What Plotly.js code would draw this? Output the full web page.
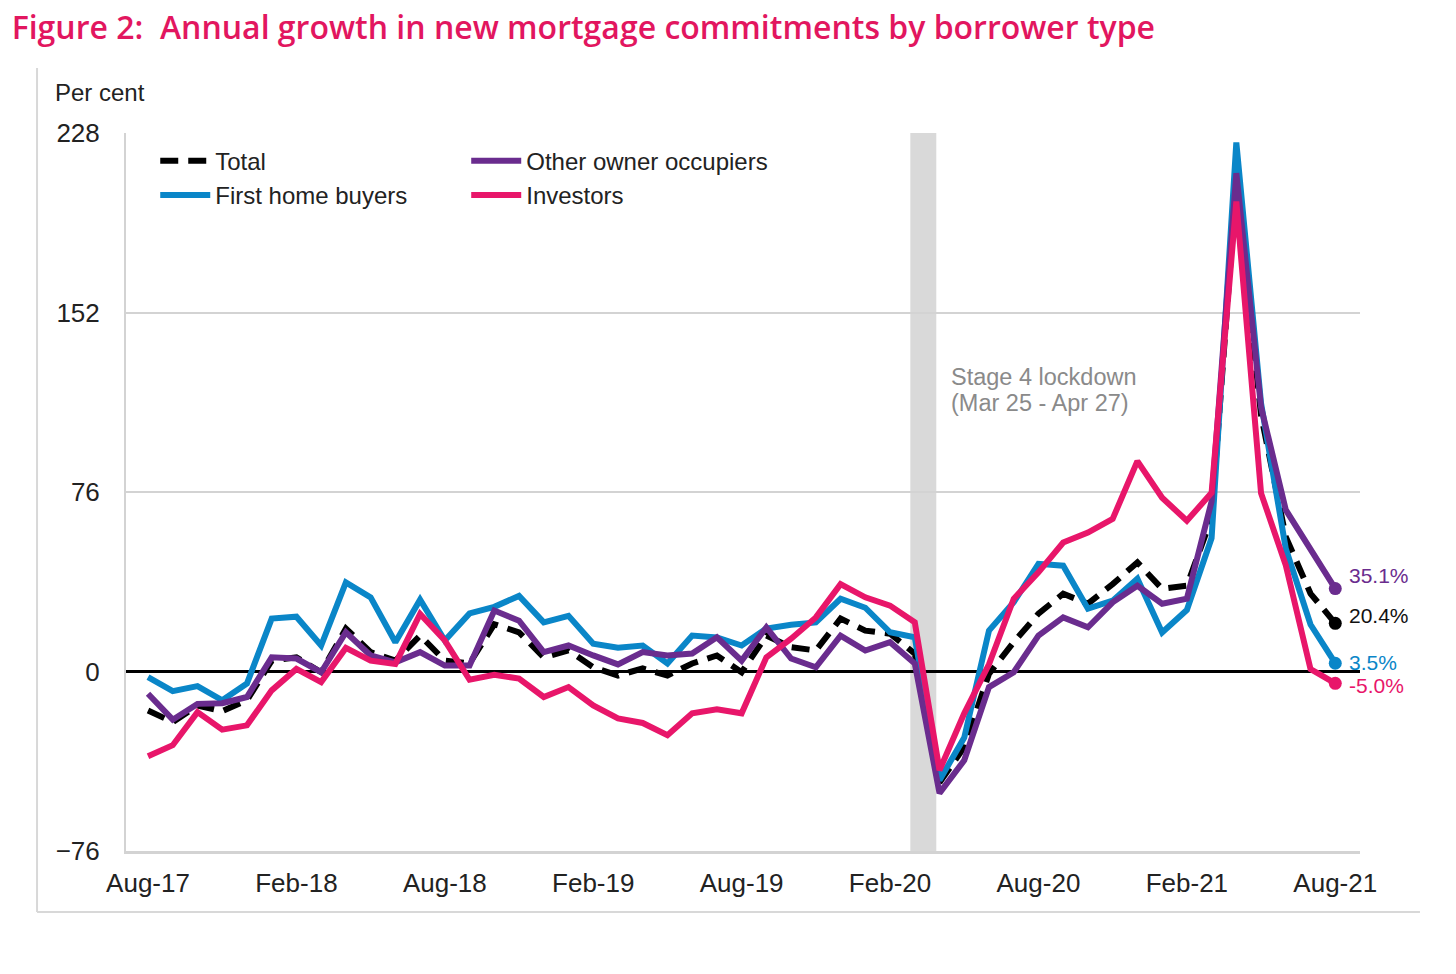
<!DOCTYPE html>
<html>
<head>
<meta charset="utf-8">
<script src="https://cdn.plot.ly/plotly-3.0.1.min.js"></script>
<style>html,body{margin:0;padding:0;background:#fff;}#chart{width:1456px;height:974px;}</style>
</head>
<body>
<div id="chart"></div>
<script>
const months = ["Aug-17","Sep-17","Oct-17","Nov-17","Dec-17","Jan-18","Feb-18","Mar-18","Apr-18","May-18","Jun-18","Jul-18",
"Aug-18","Sep-18","Oct-18","Nov-18","Dec-18","Jan-19","Feb-19","Mar-19","Apr-19","May-19","Jun-19","Jul-19",
"Aug-19","Sep-19","Oct-19","Nov-19","Dec-19","Jan-20","Feb-20","Mar-20","Apr-20","May-20","Jun-20","Jul-20",
"Aug-20","Sep-20","Oct-20","Nov-20","Dec-20","Jan-21","Feb-21","Mar-21","Apr-21","May-21","Jun-21","Jul-21","Aug-21"];

const total = [-16.5,-21.4,-14.4,-16.8,-12.2,4.6,6.0,-0.3,18.2,8.2,4.6,15.2,
4.6,3.4,20.0,16.6,6.0,8.9,1.8,-1.7,1.3,-1.7,3.4,6.8,
-0.3,15.2,10.3,8.9,22.4,17.3,16.0,7.6,-47,-32,-1,12.4,
24.5,32.9,28.7,37,46.2,35,36.3,65,207,108.5,57,33,20.4];

const firstHome = [-2.4,-8.3,-6.2,-12.2,-5.1,22.4,23.2,11.0,37.7,31.4,12.4,30.4,
13.1,24.6,27.4,32.0,20.8,23.6,11.8,10.1,11.0,3.4,15.2,14.4,
11.0,18.2,19.8,20.8,30.8,27.0,16.6,14.5,-46,-28,17.3,29.3,
45.6,44.8,26.6,30.0,39.3,16.5,26,56.5,224,113.6,52,19.9,3.5];

const otherOwner = [-9.4,-20.4,-13.7,-13.4,-10.8,6.0,5.5,-0.3,16.6,6.8,3.9,8.2,
2.5,2.5,25.8,21.5,8.2,11.0,6.8,3.0,8.2,6.8,7.6,14.5,
4.6,18.7,5.5,1.8,15.2,8.9,12.4,3.4,-51.5,-37.6,-6.6,-0.3,
15.2,22.9,18.7,29.3,36.3,28.7,30.8,72,211,112,68.4,52,35.1];

const investors = [-35.9,-31.2,-17.2,-24.6,-22.8,-8.0,1.1,-4.5,10.0,4.6,3.2,24.4,
13.1,-3.5,-1.4,-3.0,-10.8,-6.6,-14.4,-19.9,-21.8,-27.0,-17.7,-16.0,
-17.7,6.0,13.9,22.9,37.0,31.4,27.9,20.8,-41.8,-17.7,3,30.8,
42,54.6,58.8,64.6,89.1,73.6,63.8,75.7,199,75.5,45,1,-5.0];

const tickLabels = ["Aug-17","Feb-18","Aug-18","Feb-19","Aug-19","Feb-20","Aug-20","Feb-21","Aug-21"];
const yTicks = [-76, 0, 76, 152, 228];

const C_TOTAL = "#000000", C_FHB = "#0A86C8", C_OOO = "#6A2C8E", C_INV = "#E8166A";
const last = months.length - 1;
const FONT = "Liberation Sans, Arial, sans-serif";

const series = [
  {name:"Total", y: total, color: C_TOTAL, dash: "18px,10px", legend: "legend", rank: 1},
  {name:"First home buyers", y: firstHome, color: C_FHB, dash: "solid", legend: "legend", rank: 2},
  {name:"Other owner occupiers", y: otherOwner, color: C_OOO, dash: "solid", legend: "legend2", rank: 1},
  {name:"Investors", y: investors, color: C_INV, dash: "solid", legend: "legend2", rank: 2}
];

const traces = series.map(s => ({
  type: "scatter", mode: "lines", name: s.name, x: months, y: s.y,
  line: {color: s.color, width: 6, dash: s.dash}, legend: s.legend, legendrank: s.rank
}));
series.forEach(s => traces.push({
  type: "scatter", mode: "markers", x: [months[last]], y: [s.y[last]], showlegend: false,
  marker: {color: s.color, size: 13}, hoverinfo: "skip"
}));

const endLabels = [
  {y: otherOwner[last], color: C_OOO, shift: 13},
  {y: total[last], color: "#111111", shift: 8},
  {y: firstHome[last], color: C_FHB, shift: 1},
  {y: investors[last], color: C_INV, shift: -2}
];

const annotations = endLabels.map(e => ({
  x: months[last], y: e.y, xref: "x", yref: "y", text: e.y.toFixed(1) + "%",
  showarrow: false, xanchor: "left", yanchor: "middle", xshift: 12, yshift: e.shift,
  font: {family: FONT, size: 21, color: e.color}
}));
annotations.push(
  {x: -0.0592, y: 1.057, xref: "paper", yref: "paper", text: "Per cent", showarrow: false,
   xanchor: "left", yanchor: "middle", font: {family: FONT, size: 24, color: "#222"}},
  {x: 32.38, y: 124.5, xref: "x", yref: "y", text: "Stage 4 lockdown", showarrow: false,
   xanchor: "left", yanchor: "middle", font: {family: FONT, size: 23.5, color: "#8a8a8a"}},
  {x: 32.38, y: 113.5, xref: "x", yref: "y", text: "(Mar 25 - Apr 27)", showarrow: false,
   xanchor: "left", yanchor: "middle", font: {family: FONT, size: 23.5, color: "#8a8a8a"}}
);

const legendFont = {family: FONT, size: 24, color: "#222"};

const layout = {
  width: 1456, height: 974,
  margin: {l: 126, r: 96, t: 133, b: 123},
  paper_bgcolor: "#fff", plot_bgcolor: "#fff",
  title: {text: "Figure 2:\u00a0 Annual growth in new mortgage commitments by borrower type",
          x: 0.008, xanchor: "left", xref: "container", y: 0.971, yanchor: "middle", yref: "container",
          font: {family: "Open Sans, Noto Sans, sans-serif", size: 32, color: "#E2165F", weight: 600}},
  showlegend: true,
  legend: {orientation: "v", x: 0.0237, y: 0.992, xanchor: "left", yanchor: "top", itemwidth: 50,
           font: legendFont, bgcolor: "rgba(255,255,255,0)", traceorder: "normal"},
  legend2: {orientation: "v", x: 0.2757, y: 0.992, xanchor: "left", yanchor: "top", itemwidth: 50,
           font: legendFont, bgcolor: "rgba(255,255,255,0)", traceorder: "normal"},
  xaxis: {type: "category", range: [-0.89, 49.0], tickmode: "array", tickvals: tickLabels, ticktext: tickLabels,
          showgrid: false, zeroline: false, showline: true, linecolor: "#d3d3d3", linewidth: 3,
          ticks: "", ticklabelstandoff: 7,
          tickfont: {family: FONT, size: 26, color: "#222"}},
  yaxis: {range: [-76, 228], tickmode: "array", tickvals: yTicks, ticktext: ["\u221276","0","76","152","228"],
          showgrid: true, gridcolor: "#d3d3d3", gridwidth: 2,
          zeroline: true, zerolinecolor: "#000", zerolinewidth: 2.5,
          showline: true, linecolor: "#d3d3d3", linewidth: 2, ticks: "", ticklabelstandoff: 19,
          tickfont: {family: FONT, size: 26, color: "#222"}},
  shapes: [
    {type: "rect", xref: "x", yref: "paper", x0: 30.82, x1: 31.87, y0: 0, y1: 1,
     fillcolor: "#d9d9d9", line: {width: 0}, layer: "below"},
    {type: "line", xref: "paper", yref: "paper", x0: -0.0721, x1: -0.0721, y0: 1.0905, y1: -0.085,
     line: {color: "#d8d8d8", width: 2}},
    {type: "line", xref: "paper", yref: "paper", x0: -0.0721, x1: 1.0486, y0: -0.085, y1: -0.085,
     line: {color: "#d8d8d8", width: 2}}
  ],
  annotations: annotations
};

Plotly.newPlot("chart", traces, layout, {displayModeBar: false, staticPlot: true});
</script>
</body>
</html>
